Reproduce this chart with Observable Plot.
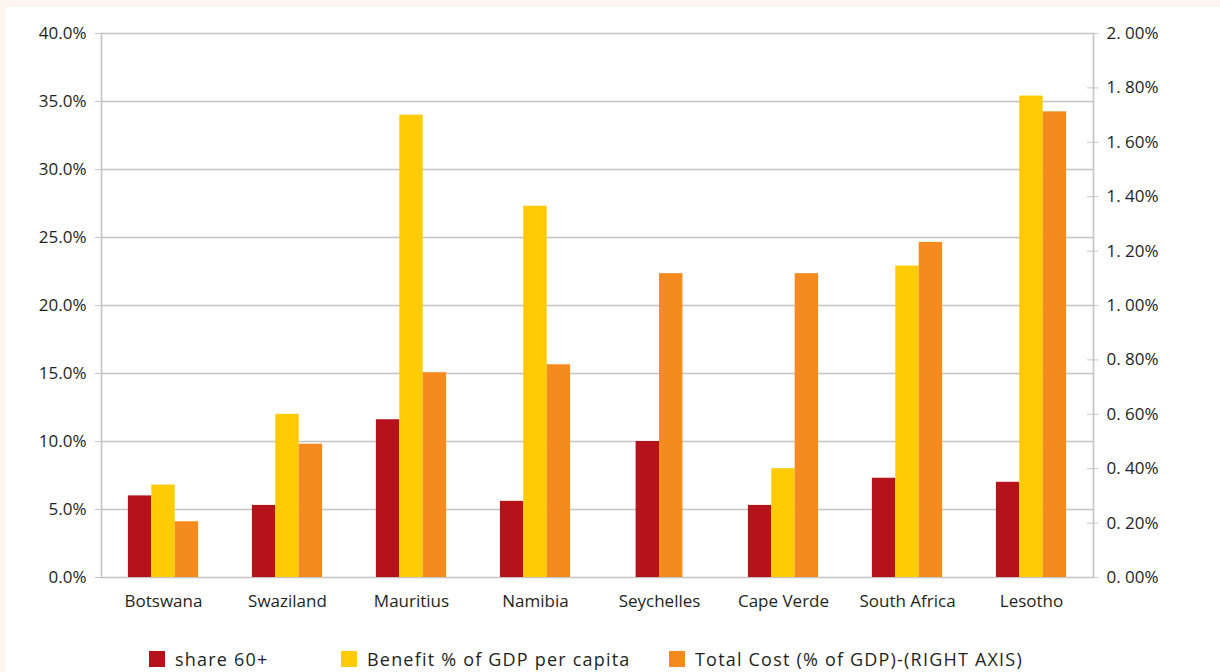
<!DOCTYPE html>
<html><head><meta charset="utf-8">
<script src="https://cdn.jsdelivr.net/npm/d3@7"></script>
<script src="https://cdn.jsdelivr.net/npm/@observablehq/plot@0.6"></script>
<style>
html,body{margin:0;padding:0;background:#fdf6ee;width:1220px;height:672px;overflow:hidden;font-family:"Open Sans",sans-serif;color:#231f20}
#panel{position:absolute;left:6px;top:7px;width:1214px;height:665px;background:#fff}
#chart{position:absolute;left:0;top:0}
#legend{position:absolute;left:0;top:644px;width:1214px;height:16px}
.item{position:absolute;top:0;height:16px;display:flex;align-items:center;font-size:18px;letter-spacing:1.2px;white-space:nowrap}
.item:nth-child(1){left:143px}
.item:nth-child(2){left:335px}
.item:nth-child(3){left:663px}
.sw{width:16px;height:16px;margin-right:10px;flex:none}
</style></head>
<body><div id="panel"><div id="chart"></div><div id="legend"></div></div>
<script>
const countries = ["Botswana","Swaziland","Mauritius","Namibia","Seychelles","Cape Verde","South Africa","Lesotho"];
const seriesNames = ["share 60+","Benefit % of GDP per capita","Total Cost (% of GDP)-(RIGHT AXIS)"];
const seriesColors = ["#b5121b","#ffcb05","#f58a1f"];
const share60 = [6.0, 5.3, 11.6, 5.6, 10.0, 5.3, 7.3, 7.0];
const benefit = [6.8, 12.0, 34.0, 27.3, null, 8.0, 22.9, 35.4];
const totalCost = [0.205, 0.49, 0.753, 0.782, 1.117, 1.117, 1.232, 1.712];
const leftTicks = [0, 5, 10, 15, 20, 25, 30, 35, 40];
const rightTicks = [0, 0.2, 0.4, 0.6, 0.8, 1.0, 1.2, 1.4, 1.6, 1.8, 2.0];
const leftMax = 40, rightMax = 2;
const ratio = leftMax / rightMax;

const rows = [];
countries.forEach((c, i) => {
  const vals = [share60[i], benefit[i], totalCost[i] == null ? null : totalCost[i] * ratio];
  const present = vals.map((v, k) => [v, k]).filter(([v]) => v != null);
  const shift = (3 - present.length) / 2;
  present.forEach(([v, k], j) => rows.push({country: c, series: seriesNames[k], slot: j + shift, value: v}));
});

const fmtLeft = d => d.toFixed(1) + "%";
const fmtRight = d => d.toFixed(2).replace(".", ". ") + "%";
const rightTicksScaled = rightTicks.map(d => d * ratio);

const chart = Plot.plot({
  width: 1214, height: 620,
  marginLeft: 92, marginRight: 124, marginTop: 26, marginBottom: 50,
  style: {fontFamily: '"Open Sans", sans-serif', fontSize: "17px", color: "#231f20", background: "transparent"},
  fx: {domain: countries, padding: 0, label: null},
  x: {domain: [0, 3], insetLeft: 26.9, insetRight: 26.9, axis: null},
  y: {domain: [0, leftMax], axis: null},
  color: {domain: seriesNames, range: seriesColors},
  marks: [
    Plot.gridY(leftTicks, {stroke: "#c4c4c4", strokeOpacity: 1, strokeWidth: 1.6}),
    Plot.frame({anchor: "left", facetAnchor: "left", stroke: "#c4c4c4", strokeWidth: 1.6}),
    Plot.frame({anchor: "right", facetAnchor: "right", stroke: "#c4c4c4", strokeWidth: 1.6}),
    Plot.rect(rows, {fx: "country", x1: "slot", x2: d => d.slot + 1, y1: () => 0, y2: "value", fill: "series"}),
    Plot.axisY(leftTicks, {anchor: "left", label: null, tickSize: 6, tickPadding: 9, stroke: "#c4c4c4", fill: "#231f20", tickFormat: fmtLeft, fontSize: 17}),
    Plot.axisY(rightTicksScaled, {anchor: "right", label: null, tickSize: 11, dx: -7, stroke: "#c4c4c4", tickFormat: () => ""}),
    Plot.axisY(rightTicksScaled, {anchor: "right", label: null, tickSize: 0, tickPadding: 13, fill: "#231f20", tickFormat: d => fmtRight(d / ratio), fontSize: 17}),
    Plot.axisFx({anchor: "bottom", tickSize: 0, tickPadding: 17, fontSize: 17, label: null, fill: "#231f20"})
  ]
});
document.getElementById("chart").appendChild(chart);

const legend = document.getElementById("legend");
seriesNames.forEach((name, k) => {
  const item = document.createElement("div");
  item.className = "item";
  const sw = document.createElement("span");
  sw.className = "sw";
  sw.style.background = seriesColors[k];
  const t = document.createElement("span");
  t.textContent = name;
  item.appendChild(sw);
  item.appendChild(t);
  legend.appendChild(item);
});
</script>
</body></html>
